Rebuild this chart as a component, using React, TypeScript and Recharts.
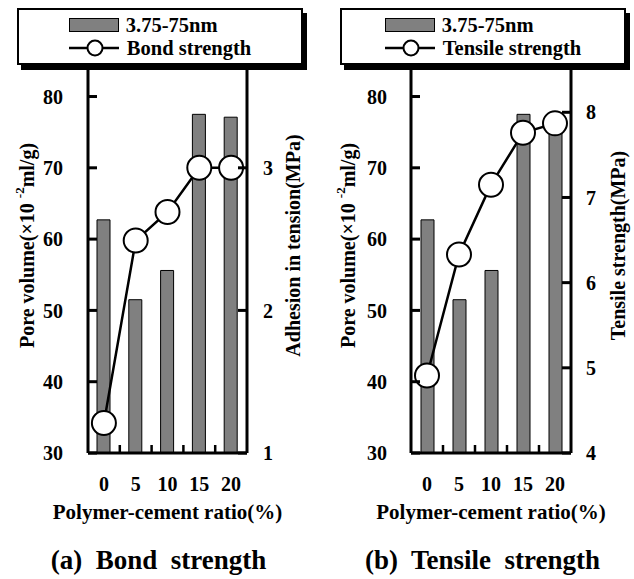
import React from 'react';
import { ComposedChart, Bar, Line, XAxis, YAxis, Legend } from 'recharts';

const ratios = ['0', '5', '10', '15', '20'];
const poreVolume = [62.7, 51.5, 55.6, 77.5, 77.1];
const bondStrength = [1.21, 2.49, 2.69, 3.0, 3.0];
const tensileStrength = [4.91, 6.33, 7.15, 7.76, 7.87];
const poreTicks = [30, 40, 50, 60, 70, 80];
const bondTicks = [1, 2, 3];
const tensileTicks = [4, 5, 6, 7, 8];

const FONT = '"Liberation Serif", "Times New Roman", serif';
const CHART_W = 317;
const MARK = '#000';
const axisLine = { stroke: '#000', strokeWidth: 3 };
const textProps = { fill: '#000', fontSize: 20, fontWeight: 'bold', fontFamily: FONT };

// y-axis tick: short inward mark, label outside the axis
function YTick(props: any) {
  const { payload, side, gap } = props;
  const x = Number(props.x);
  const y = Number(props.y);
  const left = side === 'left';
  return (
    <g>
      <rect x={left ? x : x - 9} y={y - 1.5} width={9} height={3} fill={MARK} />
      <text x={left ? x - gap : x + gap} y={y} dy="0.355em" textAnchor={left ? 'end' : 'start'} {...textProps}>
        {payload.value}
      </text>
    </g>
  );
}

// x-axis tick: label under the category, small upward mark between categories
function XTick(props: any) {
  const { payload, index, band } = props;
  const x = Number(props.x);
  const y = Number(props.y);
  return (
    <g>
      {index < ratios.length - 1 && <rect x={x + band / 2 - 1.25} y={y - 8} width={2.5} height={8} fill={MARK} />}
      <text x={x} y={y + 24} dy="0.71em" textAnchor="middle" {...textProps}>
        {payload.value}
      </text>
    </g>
  );
}

function AxisTitle({ viewBox, dx, body }: any) {
  const cx = viewBox.x + dx;
  const cy = viewBox.y + viewBox.height / 2 - 15;
  return (
    <text
      x={cx}
      y={cy}
      transform={`rotate(-90, ${cx}, ${cy})`}
      textAnchor="middle"
      dominantBaseline="central"
      {...textProps}
    >
      {body}
    </text>
  );
}

const poreTitle = (
  <>
    <tspan>Pore volume(×10 </tspan>
    <tspan dy={-8} fontSize={13}>-2</tspan>
    <tspan dy={8}>ml/g)</tspan>
  </>
);

function LegendBox({ name }: { name: string }) {
  const row = { display: 'flex', alignItems: 'center', height: 23 };
  return (
    <div
      style={{
        width: '100%',
        height: 57,
        boxSizing: 'border-box',
        border: '2px solid #000',
        boxShadow: '4px 5px 0 #000',
        background: '#fff',
        display: 'flex',
        justifyContent: 'center',
        alignItems: 'center',
        fontFamily: FONT,
        fontWeight: 'bold',
        fontSize: 20.5,
      }}
    >
      <div>
        <div style={row}>
          <svg width={50} height={14} style={{ marginRight: 7 }}>
            <rect x={0.5} y={0.5} width={49} height={13} fill="#808080" stroke="#000" />
          </svg>
          <span>3.75-75nm</span>
        </div>
        <div style={row}>
          <svg width={50} height={18} style={{ marginRight: 8 }}>
            <line x1={0} y1={9} x2={50} y2={9} stroke="#000" strokeWidth={2.5} />
            <circle cx={26} cy={9} r={7.5} fill="#fff" stroke="#000" strokeWidth={2} />
          </svg>
          <span>{name}</span>
        </div>
      </div>
    </div>
  );
}

interface PanelProps {
  title: string;
  name: string;
  values: number[];
  rightTicks: number[];
  rightDomain: [number, number];
  rightTitle: string;
  leftWidth: number;
  rightWidth: number;
  leftTitleDx: number;
  rightTitleDx: number;
  leftGap: number;
  rightGap: number;
  legendLeft: number;
  titleShift: number;
}

function Panel(p: PanelProps) {
  const data = ratios.map((r, i) => ({ ratio: r, pore: poreVolume[i], strength: p.values[i] }));
  const band = (CHART_W - p.leftWidth - p.rightWidth) / ratios.length;
  return (
    <div style={{ position: 'relative', width: CHART_W, height: 579 }}>
      <ComposedChart width={CHART_W} height={579} data={data} margin={{ top: 68, right: 0, bottom: 56, left: 0 }}>
        <Legend
          layout="horizontal"
          verticalAlign="middle"
          align="center"
          wrapperStyle={{ left: p.legendLeft, top: 8, width: 286, height: 57 }}
          content={() => <LegendBox name={p.name} />}
        />
        <XAxis
          dataKey="ratio"
          height={70}
          interval={0}
          tickLine={false}
          tickSize={0}
          tickMargin={0}
          axisLine={axisLine}
          tick={(tp: any) => <XTick {...tp} band={band} />}
          label={{
            value: 'Polymer-cement ratio(%)',
            position: 'insideBottom',
            offset: 4,
            ...textProps,
            fontSize: 21,
          }}
        />
        <YAxis
          yAxisId="left"
          domain={[30, 84]}
          ticks={poreTicks}
          allowDataOverflow
          interval={0}
          width={p.leftWidth}
          tickLine={false}
          tickSize={0}
          tickMargin={0}
          axisLine={axisLine}
          tick={(tp: any) => <YTick {...tp} side="left" gap={p.leftGap} />}
          label={{ content: (lp: any) => <AxisTitle viewBox={lp.viewBox} dx={p.leftTitleDx} body={poreTitle} /> }}
        />
        <YAxis
          yAxisId="right"
          orientation="right"
          domain={p.rightDomain}
          ticks={p.rightTicks}
          allowDataOverflow
          interval={0}
          width={p.rightWidth}
          tickLine={false}
          tickSize={0}
          tickMargin={0}
          axisLine={axisLine}
          tick={(tp: any) => <YTick {...tp} side="right" gap={p.rightGap} />}
          label={{ content: (lp: any) => <AxisTitle viewBox={lp.viewBox} dx={p.rightTitleDx} body={p.rightTitle} /> }}
        />
        <Bar
          yAxisId="left"
          dataKey="pore"
          barSize={13}
          fill="#808080"
          stroke="#000"
          strokeWidth={1}
          isAnimationActive={false}
        />
        <Line
          yAxisId="right"
          dataKey="strength"
          type="linear"
          stroke="#000"
          strokeWidth={2.5}
          dot={{ r: 12, fill: '#fff', stroke: '#000', strokeWidth: 2 }}
          activeDot={false}
          isAnimationActive={false}
        />
      </ComposedChart>
      <div
        style={{
          position: 'absolute',
          left: p.titleShift,
          top: 547,
          width: CHART_W,
          textAlign: 'center',
          whiteSpace: 'pre',
          fontFamily: FONT,
          fontWeight: 'bold',
          fontSize: 27,
          lineHeight: '27px',
        }}
      >
        {p.title}
      </div>
    </div>
  );
}

export default function App() {
  return (
    <div style={{ position: 'absolute', left: 0, top: 0, width: 634, height: 579, display: 'flex', background: '#fff' }}>
      <Panel
        title="(a)  Bond  strength"
        name="Bond strength"
        values={bondStrength}
        rightTicks={bondTicks}
        rightDomain={[1, 3.7]}
        rightTitle="Adhesion in tension(MPa)"
        leftWidth={88}
        rightWidth={70}
        leftTitleDx={27}
        rightTitleDx={46}
        leftGap={25}
        rightGap={16}
        legendLeft={17}
        titleShift={0}
      />
      <Panel
        title="(b)  Tensile  strength"
        name="Tensile strength"
        values={tensileStrength}
        rightTicks={tensileTicks}
        rightDomain={[4, 8.52]}
        rightTitle="Tensile strength(MPa)"
        leftWidth={94}
        rightWidth={63}
        leftTitleDx={31}
        rightTitleDx={47}
        leftGap={24}
        rightGap={15}
        legendLeft={23}
        titleShift={7}
      />
    </div>
  );
}
